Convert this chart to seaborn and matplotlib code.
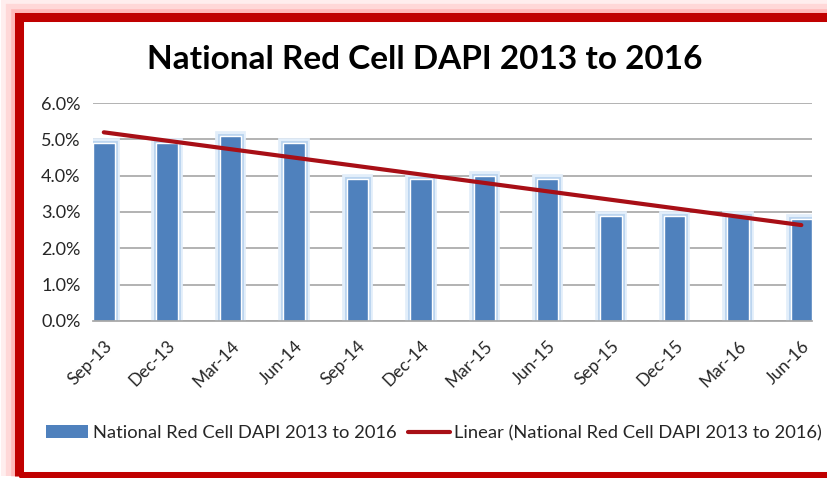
import numpy as np
import pandas as pd
import seaborn as sns
import matplotlib.pyplot as plt
import matplotlib.patheffects as pe
from matplotlib.patches import Rectangle, Patch
from matplotlib.lines import Line2D
from matplotlib.ticker import PercentFormatter

# Data
quarters = ['Sep-13', 'Dec-13', 'Mar-14', 'Jun-14', 'Sep-14', 'Dec-14',
            'Mar-15', 'Jun-15', 'Sep-15', 'Dec-15', 'Mar-16', 'Jun-16']
dapi_pct = [4.9, 4.9, 5.1, 4.9, 3.9, 3.9, 4.0, 3.9, 2.9, 2.9, 2.9, 2.8]
series_name = 'National Red Cell DAPI 2013 to 2016'

df = pd.DataFrame({'Quarter': quarters, 'DAPI': dapi_pct})

sns.set_theme(style='white')
plt.rcParams['font.family'] = ['Lato', 'DejaVu Sans']

fig = plt.figure(figsize=(8.27, 4.78), dpi=100)
ax = fig.add_axes([0.1125, 0.3285, 0.8695, 0.456])
ax.patch.set_alpha(0)

# gridlines behind bars
ax.set_axisbelow(True)
ax.yaxis.grid(True, color='#A6A6A6', linewidth=1.2)

sns.barplot(data=df, x='Quarter', y='DAPI', color='#4F81BD', width=0.34,
            saturation=1, ax=ax)
for bar in ax.patches:
    bar.set_path_effects([pe.Stroke(linewidth=7, foreground='#E2EEFA'),
                          pe.Stroke(linewidth=3.5, foreground='#BAD4EF'),
                          pe.Normal()])

# linear trendline
xs = np.arange(len(quarters))
slope, intercept = np.polyfit(xs, dapi_pct, 1)
trend = slope * xs + intercept
sns.lineplot(x=xs, y=trend, color='#A80F16', linewidth=3, ax=ax)

ax.set_xlim(-0.17, len(quarters) - 1 + 0.17)
ax.set_ylim(0, 6)
ax.set_yticks(np.arange(0, 7, 1))
ax.yaxis.set_major_formatter(PercentFormatter(decimals=1))
ax.set_xlabel('')
ax.set_ylabel('')
for s in ['top', 'right', 'left']:
    ax.spines[s].set_visible(False)
ax.spines['bottom'].set_color('#A6A6A6')
ax.tick_params(axis='y', labelsize=13, pad=9, colors='#262626', length=0)
ax.tick_params(axis='x', labelsize=12.5, colors='#262626', length=0, pad=12)
plt.setp(ax.get_xticklabels(), rotation=45, ha='right', rotation_mode='anchor')

fig.text(0.514, 0.875, series_name, ha='center', va='center',
         fontsize=24, fontweight='bold', color='black')

handles = [Patch(facecolor='#4F81BD', edgecolor='none'),
           Line2D([0], [0], color='#A80F16', linewidth=3)]
fig.legend(handles, [series_name, 'Linear (' + series_name + ')'],
           loc='center left', bbox_to_anchor=(0.036, 0.094), ncol=2,
           frameon=False, fontsize=13.2, handlelength=2.3, handletextpad=0.25,
           columnspacing=0.6, labelcolor='#262626')

# red frame with soft glow outside only
frame_xy = (19 / 827, 2 / 478)
frame_w, frame_h = 830 / 827, 459.5 / 478
for lw, a in [(26, 0.1), (19, 0.15), (12, 0.25)]:
    fig.patches.append(Rectangle(frame_xy, frame_w, frame_h,
                                 transform=fig.transFigure, fill=False,
                                 edgecolor='#FF6060', linewidth=lw, alpha=a,
                                 zorder=-3))
fig.patches.append(Rectangle(frame_xy, frame_w, frame_h,
                             transform=fig.transFigure, facecolor='white',
                             edgecolor='none', zorder=-2))
fig.patches.append(Rectangle(frame_xy, frame_w, frame_h,
                             transform=fig.transFigure, fill=False,
                             edgecolor='#C00000', linewidth=6.5, zorder=-1))

fig.savefig('out.png', dpi=100)
